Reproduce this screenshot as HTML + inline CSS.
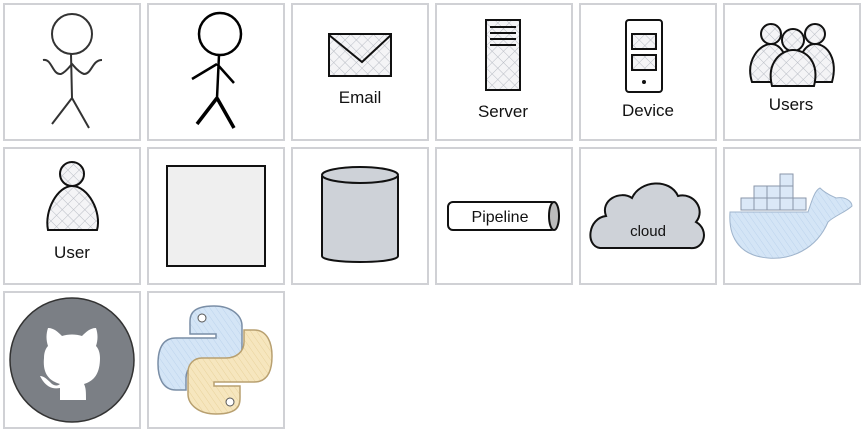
<!DOCTYPE html>
<html><head><meta charset="utf-8"><style>
body{margin:0;background:#fff}
text{font-family:"Comic Sans MS","Liberation Sans",sans-serif;font-size:17px;fill:#111;text-anchor:middle}
</style></head><body>
<svg width="864" height="432" viewBox="0 0 864 432" xmlns="http://www.w3.org/2000/svg">
<defs>
<pattern id="h" width="8" height="8" patternUnits="userSpaceOnUse" patternTransform="rotate(45)">
<rect width="8" height="8" fill="#f4f4f6"/><path d="M0 0V8M0 0H8" stroke="#b8bcc4" stroke-width="1"/></pattern>
<pattern id="hb" width="5" height="5" patternUnits="userSpaceOnUse" patternTransform="rotate(-35)">
<rect width="5" height="5" fill="#d4e5f6"/><path d="M0 0V5" stroke="#bcd3ec" stroke-width="1"/></pattern>
<pattern id="hy" width="5" height="5" patternUnits="userSpaceOnUse" patternTransform="rotate(-35)">
<rect width="5" height="5" fill="#f6e6be"/><path d="M0 0V5" stroke="#e8d29c" stroke-width="1"/></pattern>
</defs>
<g fill="#fff" stroke="#d0d1d5" stroke-width="2">
<rect x="4" y="4" width="136" height="136"/><rect x="148" y="4" width="136" height="136"/><rect x="292" y="4" width="136" height="136"/><rect x="436" y="4" width="136" height="136"/><rect x="580" y="4" width="136" height="136"/><rect x="724" y="4" width="136" height="136"/>
<rect x="4" y="148" width="136" height="136"/><rect x="148" y="148" width="136" height="136"/><rect x="292" y="148" width="136" height="136"/><rect x="436" y="148" width="136" height="136"/><rect x="580" y="148" width="136" height="136"/><rect x="724" y="148" width="136" height="136"/>
<rect x="4" y="292" width="136" height="136"/><rect x="148" y="292" width="136" height="136"/>
</g>
<!-- stick 1 -->
<g fill="none" stroke="#333" stroke-width="2">
<circle cx="72" cy="34" r="20"/><path d="M71 54L72 98M72 98L52 124M72 98L89 128"/>
<path d="M43 60C52 58 52 75 61 74C66 72 70 66 72 64C74 66 78 72 84 74C92 74 92 60 102 60"/>
</g>
<!-- stick 2 -->
<g fill="none" stroke="#000" stroke-width="2.5">
<circle cx="220" cy="34" r="21"/><path d="M219 55L217 98M217 64L192 79M217 64L234 83"/>
<path d="M217 98L197 124M217 98L234 128" stroke-width="3.5"/>
</g>
<!-- email -->
<rect x="329" y="34" width="62" height="42" fill="url(#h)" stroke="#111" stroke-width="2"/>
<path d="M329 35L362 62L391 35" fill="none" stroke="#111" stroke-width="2"/>
<text x="360" y="103">Email</text>
<!-- server -->
<rect x="486" y="20" width="34" height="70" fill="url(#h)" stroke="#111" stroke-width="2"/>
<path d="M490 27H516M490 33H516M490 39H516M490 45H516" stroke="#111" stroke-width="2"/>
<text x="503" y="117">Server</text>
<!-- device -->
<rect x="626" y="20" width="36" height="72" rx="3" fill="#fff" stroke="#111" stroke-width="2"/>
<rect x="632" y="34" width="24" height="15" fill="url(#h)" stroke="#111" stroke-width="2"/>
<rect x="632" y="55" width="24" height="15" fill="url(#h)" stroke="#111" stroke-width="2"/>
<circle cx="644" cy="82" r="2" fill="#111"/>
<text x="648" y="116">Device</text>
<!-- users -->
<g fill="url(#h)" stroke="#111" stroke-width="2">
<circle cx="771" cy="34" r="10"/><path d="M752 82C745 60 760 44 771 44C780 44 790 55 788 82Z"/>
<circle cx="815" cy="34" r="10"/><path d="M798 82C796 55 806 44 815 44C828 44 838 60 832 82Z"/>
<circle cx="793" cy="40" r="11"/><path d="M772 86C766 62 782 50 793 50C806 50 820 62 814 86Z"/>
</g>
<text x="791" y="110">Users</text>
<!-- user -->
<g fill="url(#h)" stroke="#111" stroke-width="2">
<circle cx="72" cy="174" r="12"/><path d="M48 230C44 210 58 186 72 186C88 186 102 212 97 230Z"/>
</g>
<text x="72" y="258">User</text>
<!-- square -->
<rect x="167" y="166" width="98" height="100" fill="#efefef" stroke="#111" stroke-width="2"/>
<!-- cylinder -->
<path d="M322 176V256C322 264 398 264 398 256V176" fill="#ced2d8" stroke="#111" stroke-width="2"/>
<ellipse cx="360" cy="175" rx="38" ry="8" fill="#ced2d8" stroke="#111" stroke-width="2"/>
<!-- pipeline -->
<rect x="448" y="202" width="108" height="28" rx="5" fill="#fff" stroke="#111" stroke-width="2"/>
<ellipse cx="554" cy="216" rx="5" ry="14" fill="#bbb" stroke="#111" stroke-width="2"/>
<text x="500" y="222" style="font-size:16px">Pipeline</text>
<!-- cloud -->
<path d="M600 248C585 246 588 218 606 216C600 200 620 190 632 198C640 180 670 178 678 196C694 192 706 210 696 222C710 230 704 250 690 248Z" fill="#ced2d8" stroke="#111" stroke-width="2"/>
<text x="648" y="236" style="font-size:15px">cloud</text>
<!-- docker -->
<g fill="#dbe8f7" stroke="#8a96a8" stroke-width="1">
<rect x="741" y="198" width="13" height="12"/><rect x="754" y="198" width="13" height="12"/><rect x="767" y="198" width="13" height="12"/><rect x="780" y="198" width="13" height="12"/><rect x="793" y="198" width="13" height="12"/>
<rect x="754" y="186" width="13" height="12"/><rect x="767" y="186" width="13" height="12"/><rect x="780" y="186" width="13" height="12"/>
<rect x="780" y="174" width="13" height="12"/>
<path d="M730 212H808C812 200 815 190 820 188C826 194 832 196 836 198C846 196 852 202 852 206C846 212 834 216 828 222C816 250 790 260 768 258C742 256 728 240 730 212Z" fill="url(#hb)" stroke="#9fb4cc"/>
</g>
<!-- github -->
<circle cx="72" cy="360" r="62" fill="#7b7f85" stroke="#333" stroke-width="1.5"/>
<path d="M60 400V388C50 390 44 384 40 376C44 376 48 380 52 384C55 386 58 386 60 384C54 382 42 378 44 358C44 352 46 348 48 346C46 340 46 334 48 328C54 328 58 332 62 336C68 334 76 334 82 336C86 332 90 328 96 328C98 334 98 340 96 346C98 348 100 352 100 358C100 378 90 382 84 384C86 388 86 392 86 400Z" fill="#fff"/>
<!-- python -->
<path d="M214 306C188 306 190 318 190 326V334H216V338H176C160 338 158 354 158 364C158 376 162 390 176 390H186V378C186 368 194 362 204 362H228C236 362 242 356 242 348V326C242 316 232 306 214 306Z" fill="url(#hb)" stroke="#7a8ea6" stroke-width="1.5"/>
<path d="M216 414C242 414 240 402 240 394V386H214V382H254C270 382 272 366 272 356C272 344 268 330 254 330H244V342C244 352 236 358 226 358H202C194 358 188 364 188 372V394C188 404 198 414 216 414Z" fill="url(#hy)" stroke="#b8a070" stroke-width="1.5"/>
<circle cx="202" cy="318" r="4" fill="#fff" stroke="#555"/>
<circle cx="230" cy="402" r="4" fill="#fff" stroke="#555"/>
</svg>
</body></html>
